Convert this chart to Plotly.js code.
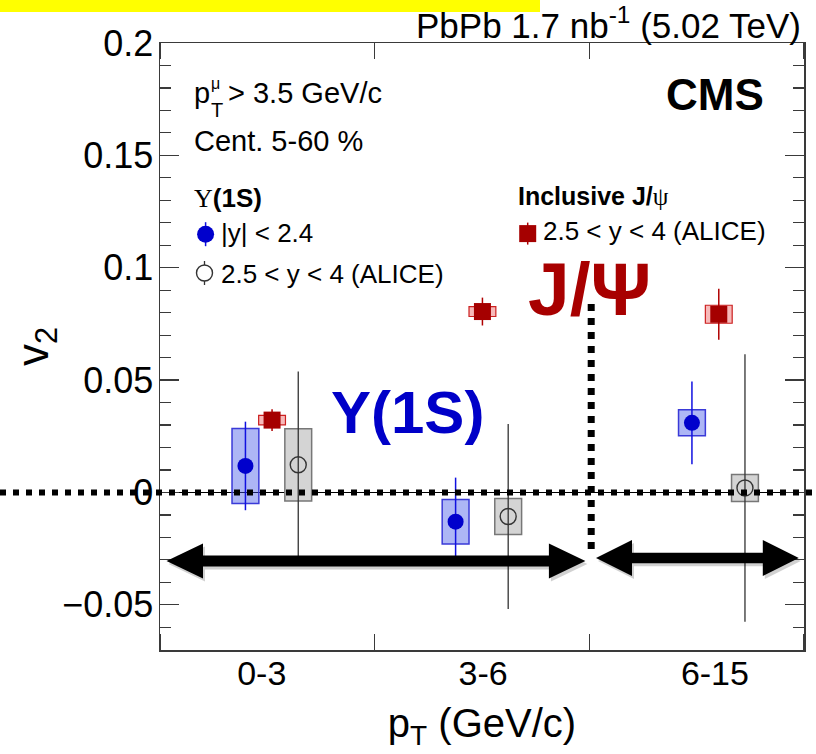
<!DOCTYPE html>
<html><head><meta charset="utf-8">
<script src="https://cdn.plot.ly/plotly-3.0.1.min.js"></script>
<style>html,body{margin:0;padding:0;background:#fff}</style>
</head><body>
<div id="chart" style="width:816px;height:754px"></div>
<script>
// ---------------- data ----------------
const categories = ['0-3', '3-6', '6-15'];
const categoryPos = [0.474, 1.505, 2.585];

// Upsilon(1S), CMS |y|<2.4
const upsCmsX    = [0.398, 1.377, 2.478];
const upsCmsV2   = [0.0118, -0.0130, 0.0310];
const upsCmsStat = [0.0197, 0.0196, 0.0184];
const upsCmsSyst = [0.0167, 0.0099, 0.0058];

// Inclusive J/psi, ALICE 2.5<y<4
const jpsiX    = [0.522, 1.502, 2.603];
const jpsiV2   = [0.0322, 0.0805, 0.0793];
const jpsiStat = [0.0048, 0.0062, 0.0113];
const jpsiSyst = [0.0021, 0.0022, 0.0040];

// Upsilon(1S), ALICE 2.5<y<4
const upsAliceX    = [0.644, 1.622, 2.725];
const upsAliceV2   = [0.0123, -0.0107, 0.0020];
const upsAliceStat = [0.0415, 0.0412, 0.0595];
const upsAliceSyst = [0.0161, 0.0080, 0.0060];

// ---------------- geometry helpers ----------------
const W = 816, H = 754, L = 160, R = 12, T = 43, B = 104;
const PW = W - L - R, PH = H - T - B;
const px = x => (x - L) / PW;
const py = y => (H - B - y) / PH;
const FONT = 'Liberation Sans, Arial, Helvetica, sans-serif';
const SERIF = 'Liberation Serif, DejaVu Serif, serif';
const BOXW = 0.125;

const lo = (v, e) => v.map((d, i) => d - e[i]);
const dbl = e => e.map(d => 2 * d);

const traces = [
  // systematic boxes
  {type: 'bar', x: upsCmsX, base: lo(upsCmsV2, upsCmsSyst), y: dbl(upsCmsSyst), width: BOXW,
   marker: {color: 'rgba(60,80,230,0.42)', line: {color: '#3a3ad8', width: 1.5}}, showlegend: false, hoverinfo: 'skip'},
  {type: 'bar', x: upsAliceX, base: lo(upsAliceV2, upsAliceSyst), y: dbl(upsAliceSyst), width: BOXW,
   marker: {color: '#d4d4d4', line: {color: '#777777', width: 1.5}}, showlegend: false, hoverinfo: 'skip'},
  {type: 'bar', x: jpsiX, base: lo(jpsiV2, jpsiSyst), y: dbl(jpsiSyst), width: BOXW,
   marker: {color: '#f7b9b9', line: {color: '#cc2020', width: 1.2}}, showlegend: false, hoverinfo: 'skip'},
  // points with statistical errors
  {type: 'scatter', mode: 'markers', x: upsCmsX, y: upsCmsV2, name: '|y| < 2.4',
   error_y: {type: 'data', array: upsCmsStat, visible: true, width: 0, thickness: 1.5, color: '#1010e0'},
   marker: {symbol: 'circle', size: 16, color: '#0000cc', line: {width: 0}}},
  {type: 'scatter', mode: 'markers', x: jpsiX, y: jpsiV2, name: '2.5 < y < 4 (ALICE) J/ψ',
   error_y: {type: 'data', array: jpsiStat, visible: true, width: 0, thickness: 1.5, color: '#b00000'},
   marker: {symbol: 'square', size: 17, color: '#a50000', line: {width: 0}}},
  {type: 'scatter', mode: 'markers', x: upsAliceX, y: upsAliceV2, name: '2.5 < y < 4 (ALICE) Υ',
   error_y: {type: 'data', array: upsAliceStat, visible: true, width: 0, thickness: 1.3, color: '#333333'},
   marker: {symbol: 'circle-open', size: 16, color: '#333333', line: {width: 1.4, color: '#333333'}}}
];

function arrowPath(xl, xr, yc, hl, hh, ht, dx, dy) {
  dx = dx || 0; dy = dy || 0;
  const pts = [[xl, yc], [xl + hl, yc - hh], [xl + hl, yc - ht], [xr - hl, yc - ht], [xr - hl, yc - hh],
               [xr, yc], [xr - hl, yc + hh], [xr - hl, yc + ht], [xl + hl, yc + ht], [xl + hl, yc + hh]];
  return 'M' + pts.map(p => px(p[0] + dx).toFixed(5) + ',' + py(p[1] + dy).toFixed(5)).join(' L') + ' Z';
}

const shapes = [
  // yellow banner at the top
  {type: 'rect', xref: 'paper', yref: 'paper', x0: px(0), x1: px(540), y0: py(12), y1: py(-2),
   fillcolor: '#ffff00', line: {width: 0}, layer: 'above'},
  // dotted zero line
  {type: 'line', xref: 'paper', yref: 'y', x0: px(0), x1: px(813), y0: 0, y1: 0,
   line: {color: '#000', width: 6, dash: '6px,7px'}, layer: 'above'},
  // dotted vertical separator
  {type: 'line', xref: 'paper', yref: 'paper', x0: px(591.2), x1: px(591.2), y0: py(304), y1: py(556),
   line: {color: '#000', width: 7, dash: '7px,7px'}, layer: 'above'},
  // arrow shadows
  {type: 'path', xref: 'paper', yref: 'paper', path: arrowPath(166.5, 585.4, 561, 36.5, 17.5, 5.5, 2, 3),
   fillcolor: 'rgba(0,0,0,0.18)', line: {width: 0}, layer: 'above'},
  {type: 'path', xref: 'paper', yref: 'paper', path: arrowPath(596, 798.8, 558, 36, 18, 5.3, 2, 3),
   fillcolor: 'rgba(0,0,0,0.18)', line: {width: 0}, layer: 'above'},
  // arrows
  {type: 'path', xref: 'paper', yref: 'paper', path: arrowPath(166.5, 585.4, 561, 36.5, 17.5, 5.5),
   fillcolor: '#000', line: {width: 0}, layer: 'above'},
  {type: 'path', xref: 'paper', yref: 'paper', path: arrowPath(596, 798.8, 558, 36, 18, 5.3),
   fillcolor: '#000', line: {width: 0}, layer: 'above'},
  // legend markers
  {type: 'line', xref: 'paper', yref: 'paper', xsizemode: 'pixel', ysizemode: 'pixel',
   xanchor: px(205.6), yanchor: py(234.2), x0: 0, x1: 0, y0: -12, y1: 12, line: {color: '#1010e0', width: 1.5}, layer: 'above'},
  {type: 'circle', xref: 'paper', yref: 'paper', xsizemode: 'pixel', ysizemode: 'pixel',
   xanchor: px(205.6), yanchor: py(234.2), x0: -8.5, x1: 8.5, y0: -8.5, y1: 8.5, fillcolor: '#0000cc', line: {width: 0}, layer: 'above'},
  {type: 'line', xref: 'paper', yref: 'paper', xsizemode: 'pixel', ysizemode: 'pixel',
   xanchor: px(204.5), yanchor: py(273), x0: 0, x1: 0, y0: -12, y1: 12, line: {color: '#333', width: 1.3}, layer: 'above'},
  {type: 'circle', xref: 'paper', yref: 'paper', xsizemode: 'pixel', ysizemode: 'pixel',
   xanchor: px(204.5), yanchor: py(273), x0: -8, x1: 8, y0: -8, y1: 8, fillcolor: '#fff', line: {color: '#333', width: 1.4}, layer: 'above'},
  {type: 'line', xref: 'paper', yref: 'paper', xsizemode: 'pixel', ysizemode: 'pixel',
   xanchor: px(527.7), yanchor: py(233.6), x0: 0, x1: 0, y0: -11, y1: 11, line: {color: '#b00000', width: 1.5}, layer: 'above'},
  {type: 'rect', xref: 'paper', yref: 'paper', xsizemode: 'pixel', ysizemode: 'pixel',
   xanchor: px(527.7), yanchor: py(233.6), x0: -8.5, x1: 8.5, y0: -8.5, y1: 8.5, fillcolor: '#a50000', line: {width: 0}, layer: 'above'}
];

function txt(text, x, y, size, opts) {
  return Object.assign({text: text, xref: 'paper', yref: 'paper', x: px(x), y: py(y),
    xanchor: 'left', yanchor: 'middle', showarrow: false,
    font: {family: FONT, size: size, color: '#000'}}, opts || {});
}

const annotations = [
  txt('PbPb 1.7 nb<sup>-1</sup> (5.02 TeV)', 803, 23.3, 35, {xanchor: 'right'}),
  txt('<b>CMS</b>', 766, 94.5, 44, {xanchor: 'right'}),
  // p_T^mu > 3.5 GeV/c, built from pieces so that mu sits above T
  txt('p', 193, 93, 29, {borderpad: 0}),
  txt('μ', 210, 83, 16, {borderpad: 0}),
  txt('T', 210, 110, 20, {borderpad: 0}),
  txt('> 3.5 GeV/c', 227, 93, 29, {borderpad: 0}),
  txt('Cent. 5-60 %', 192, 140.6, 29),
  txt('<span style="font-family:' + SERIF + '">Υ</span><b>(1S)</b>', 192, 198, 26),
  txt('|y| < 2.4', 219, 233.3, 26),
  txt('2.5 < y < 4 (ALICE)', 219, 273.6, 26),
  txt('<b>Inclusive J/</b><span style="font-family:' + SERIF + '">ψ</span>', 516, 196.2, 25),
  txt('2.5 < y < 4 (ALICE)', 541, 230.7, 26),
  txt('<b>J/Ψ</b>', 526, 288.5, 75, {font: {family: FONT, size: 75, color: '#a80000'}}),
  txt('<b>Υ(1S)</b>', 329, 412.9, 60, {font: {family: FONT, size: 60, color: '#0000c8'}})
];

const axisCol = '#3a3a3a';
const layout = {
  width: W, height: H,
  margin: {l: L, r: R, t: T, b: B, pad: 0},
  paper_bgcolor: '#fff', plot_bgcolor: '#fff',
  showlegend: false,
  barmode: 'overlay',
  font: {family: FONT, color: '#000'},
  xaxis: {
    range: [0, 3], autorange: false, fixedrange: true,
    tickmode: 'array', tickvals: categoryPos, ticktext: categories,
    ticks: '', tickfont: {family: FONT, size: 34, color: '#000'}, ticklabelstandoff: -7,
    minor: {tick0: 0, dtick: 1, ticks: 'inside', ticklen: 16, tickwidth: 1.3, tickcolor: axisCol},
    showgrid: false, zeroline: false,
    showline: true, linecolor: axisCol, linewidth: 1.5, mirror: 'allticks',
    automargin: false,
    title: {text: 'p<sub>T</sub> (GeV/c)', font: {family: FONT, size: 40, color: '#000'}, standoff: 17}
  },
  yaxis: {
    range: [-0.0701, 0.2], autorange: false, fixedrange: true,
    tick0: 0, dtick: 0.05, ticks: 'inside', ticklen: 19, tickwidth: 1.3, tickcolor: axisCol,
    tickfont: {family: FONT, size: 36, color: '#000'}, ticklabelstandoff: -2,
    minor: {tick0: 0, dtick: 0.01, ticks: 'inside', ticklen: 11, tickwidth: 1.2, tickcolor: axisCol},
    showgrid: false, zeroline: true, zerolinecolor: '#000', zerolinewidth: 1,
    showline: true, linecolor: axisCol, linewidth: 1.5, mirror: 'allticks',
    automargin: false,
    title: {text: 'v<sub>2</sub>', font: {family: FONT, size: 44, color: '#000'}, standoff: 0}
  },
  shapes: shapes,
  annotations: annotations
};

Plotly.newPlot('chart', traces, layout, {staticPlot: true, displayModeBar: false});
</script>
</body></html>
